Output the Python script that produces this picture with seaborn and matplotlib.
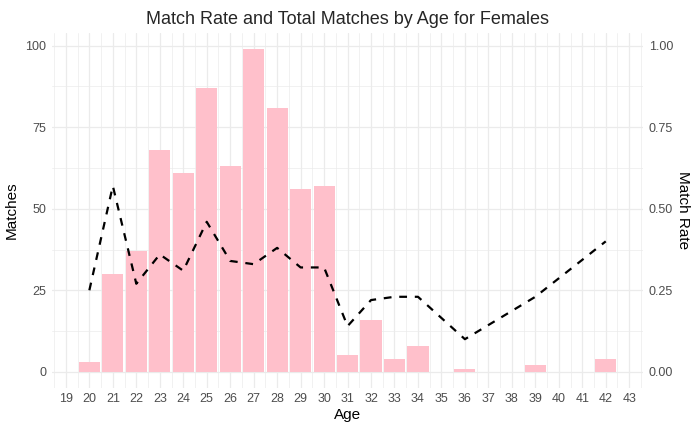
import numpy as np
import pandas as pd
import matplotlib
matplotlib.use("Agg")
import matplotlib.pyplot as plt
from matplotlib.ticker import MultipleLocator
import seaborn as sns

# Data
ages = [20, 21, 22, 23, 24, 25, 26, 27, 28, 29, 30, 31, 32, 33, 34, 36, 39, 42]
matches = [3, 30, 37, 68, 61, 87, 63, 99, 81, 56, 57, 5, 16, 4, 8, 1, 2, 4]
match_rate = [0.25, 0.57, 0.27, 0.36, 0.31, 0.46, 0.34, 0.33, 0.38, 0.32, 0.32,
              0.14, 0.22, 0.23, 0.23, 0.10, 0.23, 0.40]
age_ticks = list(range(19, 44))

df = pd.DataFrame({"Age": ages, "Matches": matches, "MatchRate": match_rate})

sns.set_theme(style="white")
plt.rcParams['font.family'] = ['Liberation Sans', 'DejaVu Sans']

fig = plt.figure(figsize=(7, 4.32), dpi=100)
ax = fig.add_axes([0.074, 0.102, 0.845, 0.822])

sns.barplot(data=df, x="Age", y="Matches", native_scale=True, width=0.9,
            color="#FFC0CB", saturation=1, linewidth=0, ax=ax, zorder=2)

ylo, yhi = -4.95, 103.95
ax.set_xlim(18.4, 43.6)
ax.set_ylim(ylo, yhi)
ax.set_xticks(age_ticks)
ax.set_xticklabels([str(a) for a in age_ticks])
ax.set_yticks([0, 25, 50, 75, 100])
ax.yaxis.set_minor_locator(MultipleLocator(12.5))
ax.xaxis.set_minor_locator(MultipleLocator(0.5))
ax.grid(True, which="major", color="#EBEBEB", linewidth=0.9, zorder=0)
ax.grid(True, which="minor", color="#EBEBEB", linewidth=0.5, zorder=0)
ax.set_axisbelow(True)
for s in ax.spines.values():
    s.set_visible(False)
ax.tick_params(axis="both", which="both", length=0, labelsize=9, labelcolor="#4D4D4D", pad=4)
ax.set_xlabel("Age", fontsize=11, color="black", labelpad=2)
ax.set_ylabel("Matches", fontsize=11, color="black", labelpad=5)

ax2 = ax.twinx()
sns.lineplot(data=df, x="Age", y="MatchRate", ax=ax2, color="black",
             linewidth=1.6, linestyle=(0, (3.5, 3.5)), zorder=3)
ax2.set_ylim(ylo / 100, yhi / 100)
ax2.set_yticks([0, 0.25, 0.5, 0.75, 1.0])
ax2.set_yticklabels(["0.00", "0.25", "0.50", "0.75", "1.00"])
ax2.grid(False)
for s in ax2.spines.values():
    s.set_visible(False)
ax2.tick_params(axis="y", length=0, labelsize=9, labelcolor="#4D4D4D", pad=4)
ax2.set_ylabel("Match Rate", fontsize=11, color="black", rotation=-90, labelpad=12)

fig.suptitle("Match Rate and Total Matches by Age for Females", fontsize=13, x=0.497, y=0.975)

fig.savefig("out.png", dpi=100)
